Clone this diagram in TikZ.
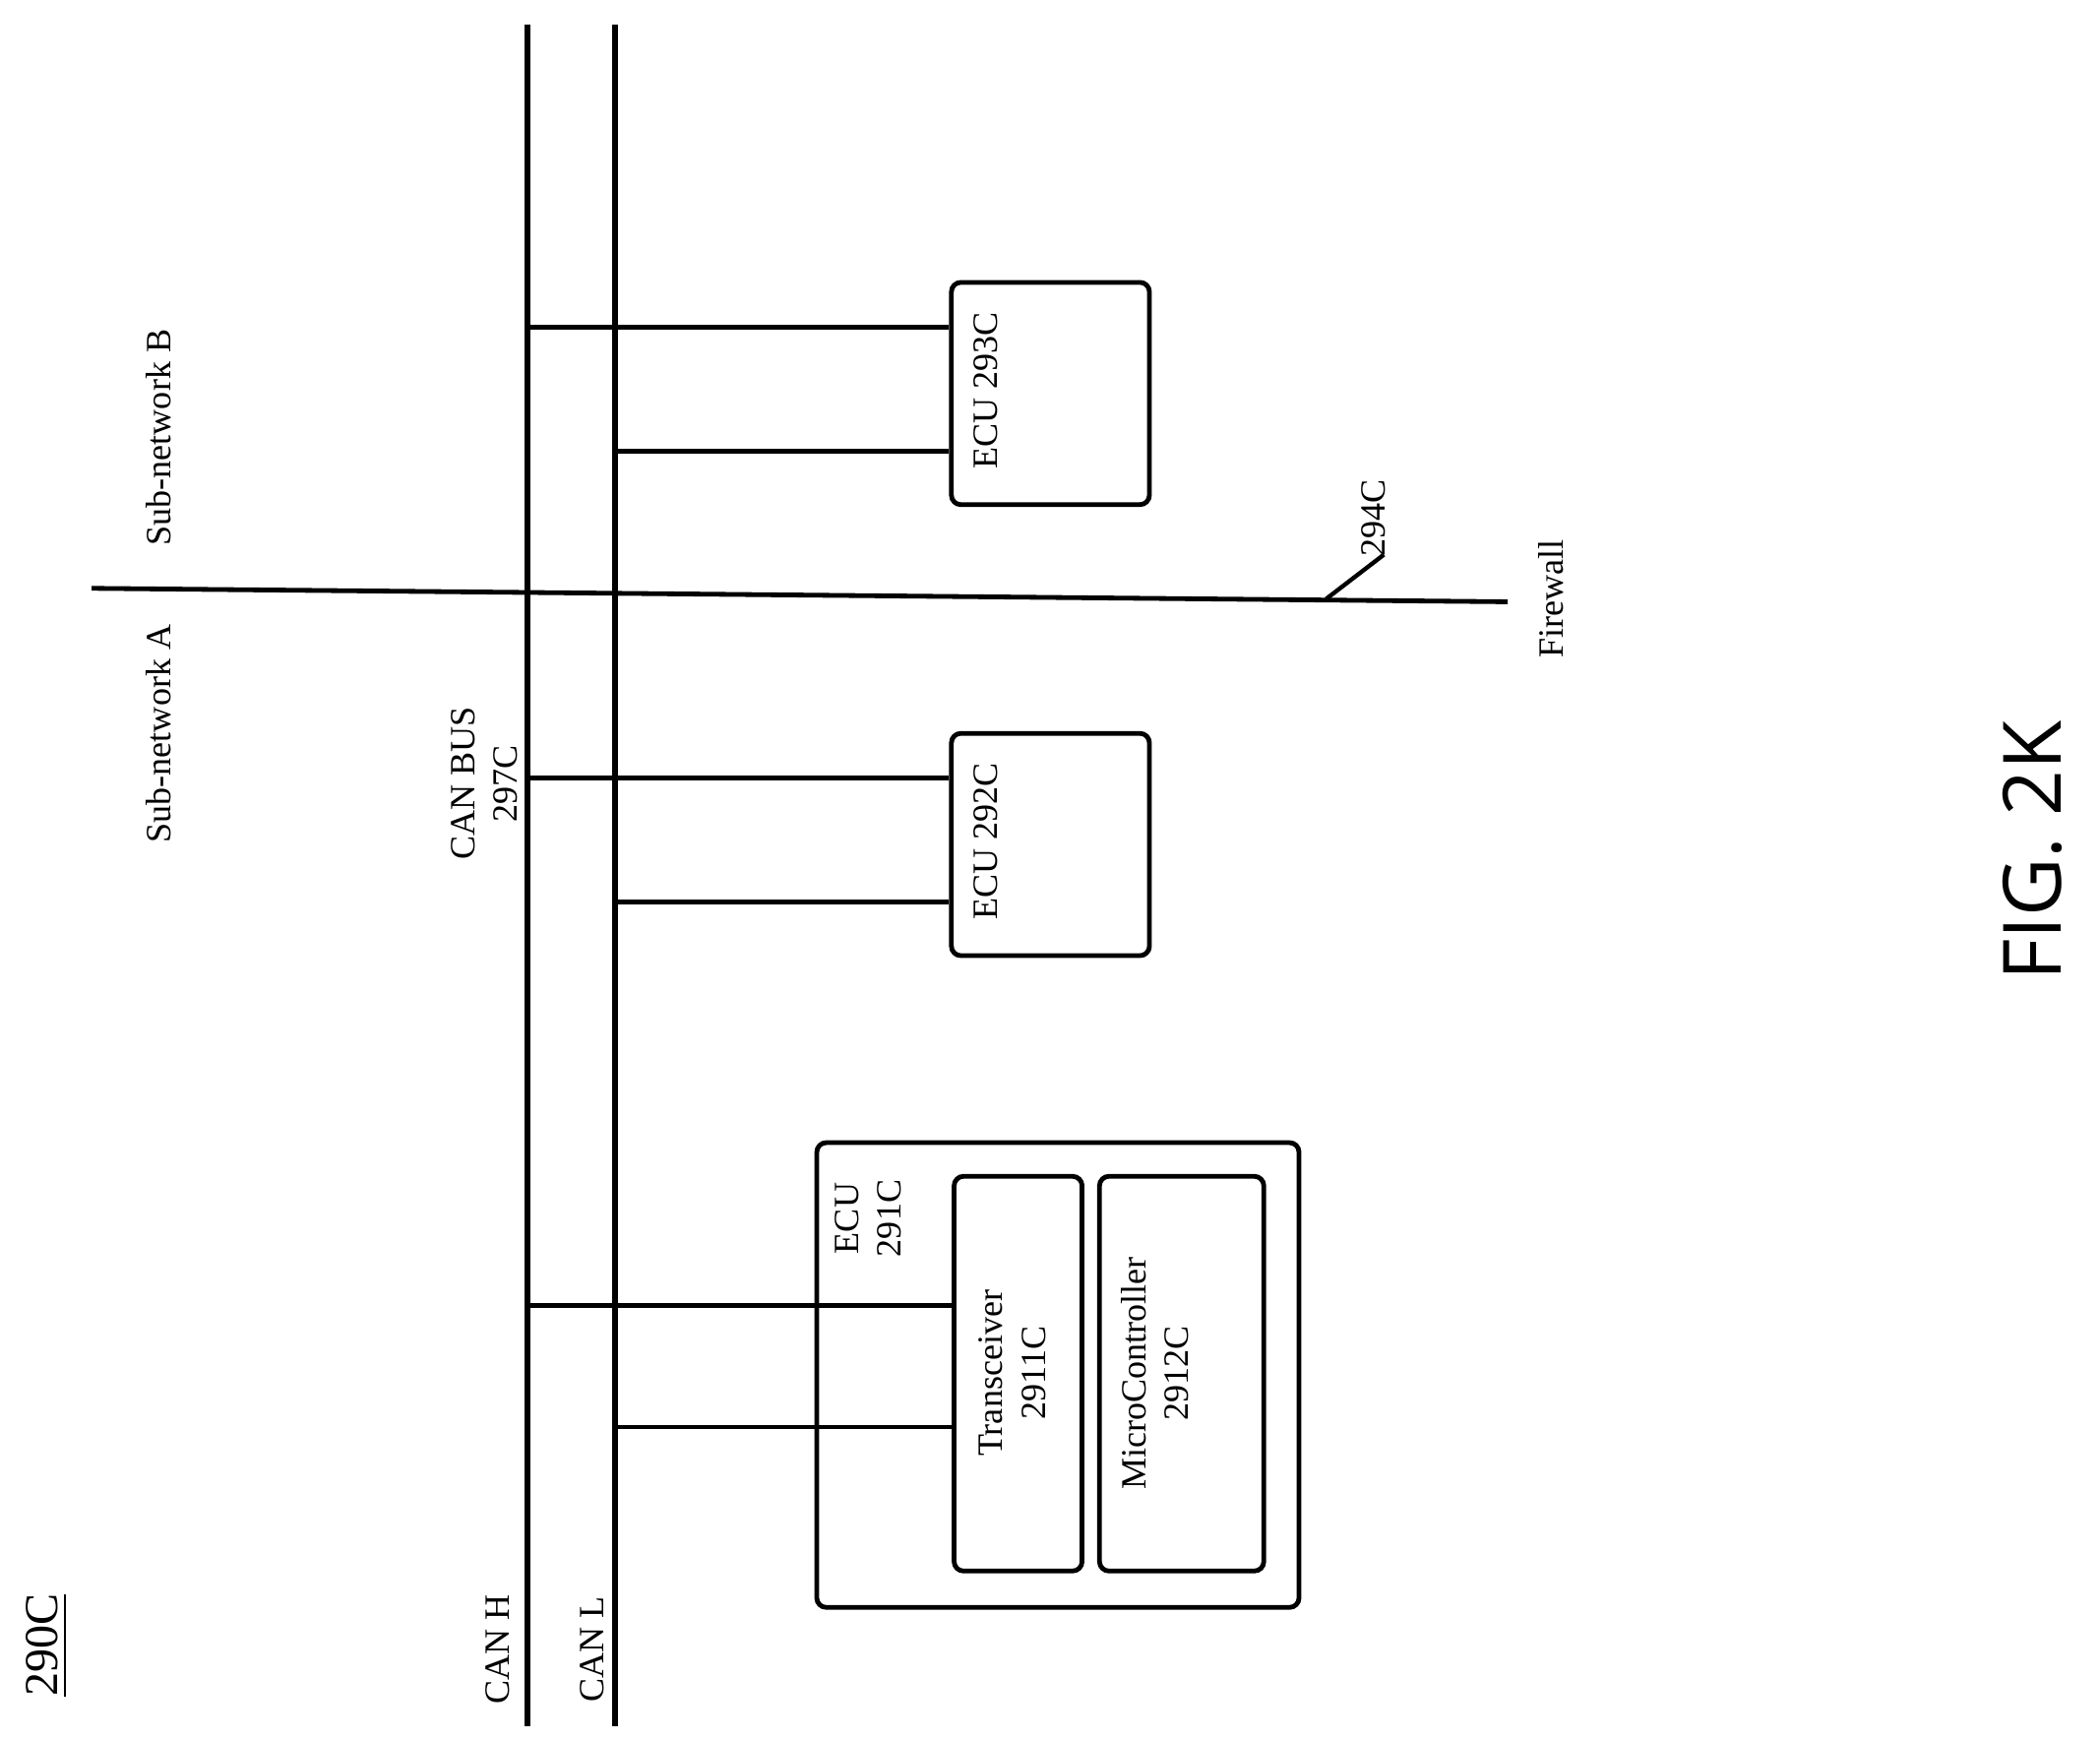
\documentclass[tikz,border=0pt]{standalone}
\usepackage{fontspec}
\setmainfont{Liberation Serif}
\newfontfamily\figfont{Open Sans}
\begin{document}
\begin{tikzpicture}[x=0.01cm,y=-0.01cm,
  bus/.style={line width=1.3pt},
  box/.style={draw,line width=1pt,rounded corners=2pt},
  lbl/.style={rotate=90,font=\fontsize{7.5}{9}\selectfont,align=center,inner sep=0pt}]
  \useasboundingbox (0,0) rectangle (1560,1292);
  % Bus lines
  \coordinate (hTop) at (392,18);  \coordinate (hBot) at (392,1282);
  \coordinate (lTop) at (457,18);  \coordinate (lBot) at (457,1282);
  \draw [bus] (hTop) -- (hBot);
  \draw [bus] (lTop) -- (lBot);

  % Firewall
  \coordinate (fwA) at (68,437);
  \coordinate (fwB) at (1120,447);
  \draw [line width=1pt] (fwA) -- (fwB);
  \node [lbl] (fw) at (1152,445) {Firewall};
  \coordinate (ldA) at (985,445);
  \coordinate (ldB) at (1028,412);
  \draw [line width=0.9pt] (ldA) -- (ldB);
  \node [lbl,anchor=south west] (n294) at (1030,414) {294C};

  % Side labels
  \node [lbl] (subB) at (118,325) {Sub-network B};
  \node [lbl] (subA) at (118,545) {Sub-network A};
  \node [lbl] (bus) at (360,582) {CAN BUS\\297C};
  \node [lbl] (canH) at (370,1225) {CAN H};
  \node [lbl] (canL) at (440,1225) {CAN L};
  \node [lbl,font=\fontsize{10}{12}\selectfont] (fig) at (35,1222) {\underline{290C}};
  \node [rotate=90,font=\figfont\fontsize{17}{20}\selectfont] (figk) at (1510,632) {FIG. 2K};

  % ECU boxes
  \node [box,anchor=north west,inner sep=0pt,
         minimum width=1.47cm,minimum height=1.65cm] (e293) at (705,208) {};
  \node [lbl] at (732,290) {ECU 293C};
  \node [box,anchor=north west,inner sep=0pt,
         minimum width=1.47cm,minimum height=1.65cm] (e292) at (705,543) {};
  \node [lbl] at (732,625) {ECU 292C};
  \node [box,anchor=north west,inner sep=0pt,
         minimum width=3.58cm,minimum height=3.45cm] (e291) at (605,847) {};
  \node [lbl] at (645,905) {ECU\\291C};
  \node [box,anchor=north west,inner sep=0pt,
         minimum width=0.95cm,minimum height=2.93cm] (trx) at (707,872) {};
  \node [lbl] at (752,1020) {Transceiver\\2911C};
  \node [box,anchor=north west,inner sep=0pt,
         minimum width=1.22cm,minimum height=2.93cm] (mcu) at (815,872) {};
  \node [lbl] at (858,1020) {MicroController\\2912C};

  % Stubs from the bus to the ECUs
  \foreach \y/\bx/\dst in {243/392/e293, 335/457/e293, 578/392/e292,
                           670/457/e292, 970/392/trx, 1060/457/trx} {
    \coordinate (s) at (\bx,\y);
    \draw [line width=1pt] (s) -- (\dst.west |- s);
  }
\end{tikzpicture}
\end{document}
